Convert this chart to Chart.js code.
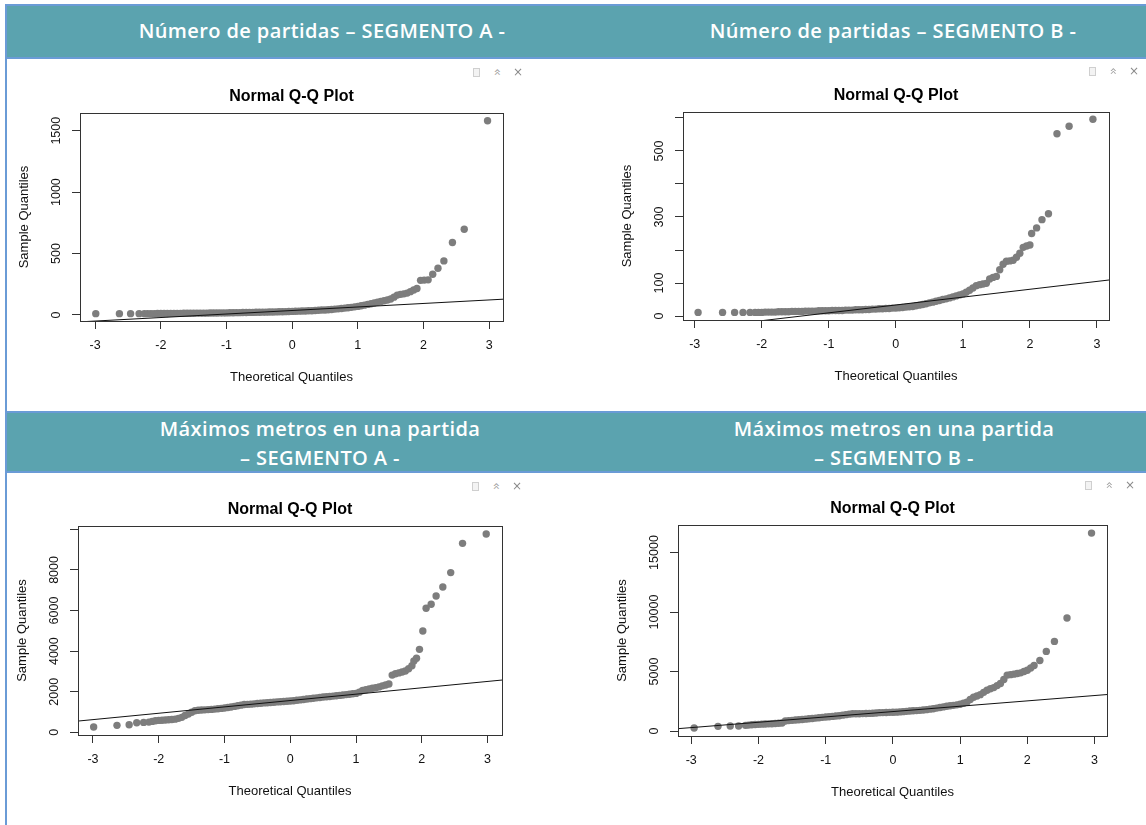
<!DOCTYPE html>
<html>
<head>
<meta charset="utf-8">
<script src="https://cdn.jsdelivr.net/npm/chart.js@4.4.1/dist/chart.umd.min.js"></script>
<style>
  body { margin: 0; background: #fff; width: 1146px; height: 825px; overflow: hidden; position: relative; }
  .band { position: absolute; left: 6px; right: 0; background: #5ba3af; border-top: 2px solid #6a9bd6; border-bottom: 2px solid #6a9bd6; }
  .vline { position: absolute; left: 5px; top: 4px; width: 2px; height: 821px; background: #6a9bd6; z-index: 2; }
  .head { position: absolute; width: 560px; text-align: center; color: #fff; font-family: "Open Sans", sans-serif; font-weight: 600; font-size: 20px; letter-spacing: 0.4px; line-height: 29px; white-space: nowrap; }
  canvas { position: absolute; }
  .ic { position: absolute; color: #a0a0a0; font-family: "DejaVu Sans", sans-serif; font-size: 12px; line-height: 12px; }
  .doc { position: absolute; width: 5px; height: 7px; border: 1px solid #cfcfcf; background: #f3f3f3; }
</style>
</head>
<body>
<div class="band" style="top:4px;height:51px"></div>
<div class="band" style="top:411px;height:58px"></div>
<div class="vline"></div>
<div class="head" style="left:42px;top:16px">Número de partidas – SEGMENTO A -</div>
<div class="head" style="left:613px;top:16px">Número de partidas – SEGMENTO B -</div>
<div class="head" style="left:40px;top:414px">Máximos metros en una partida<br>– SEGMENTO A -</div>
<div class="head" style="left:614px;top:414px">Máximos metros en una partida<br>– SEGMENTO B -</div>

<script>
// ---- data (theoretical quantile, sample quantile) ----
const xTicks = [-3, -2, -1, 0, 1, 2, 3];

// Número de partidas - segmento A
const partidasA_x = [-2.99,-2.63,-2.46,-2.33,-2.25,
  -2.2,-2.15,-2.1,-2.05,-2.0,-1.95,-1.9,-1.85,-1.8,-1.75,-1.7,-1.65,-1.6,-1.55,-1.5,-1.45,-1.4,-1.35,-1.3,-1.25,-1.2,-1.15,-1.1,-1.05,-1.0,-0.95,-0.9,-0.85,-0.8,-0.75,-0.7,-0.65,-0.6,-0.55,-0.5,-0.45,-0.4,-0.35,-0.3,-0.25,-0.2,-0.15,-0.1,-0.05,0,0.05,0.1,0.15,0.2,0.25,0.3,0.35,0.4,0.45,0.5,0.55,0.6,0.65,0.7,0.75,0.8,0.85,0.9,0.95,1.0,
  1.05,1.1,1.15,1.2,1.25,1.3,1.35,1.4,1.45,1.5,1.55,1.6,1.65,1.7,1.75,1.8,1.85,1.9,
  1.955,2.01,2.07,2.14,2.22,2.31,2.44,2.62,2.975];
const partidasA_y = [11,11,11,11,11,
  11,11,11,12,12,12,12,13,13,13,13,14,14,14,14,15,15,15,15,16,16,16,17,17,17,18,18,19,19,20,20,21,21,22,22,23,23,24,24,25,26,26,27,28,29,30,31,32,33,34,35,37,38,40,41,43,45,48,50,53,56,59,62,66,70,
  75,80,86,92,98,104,110,116,122,130,145,162,168,172,178,190,203,215,
  282,284,286,331,380,440,590,698,1581];
const partidasA_line = [[-3.3, -58], [3.3, 131]];
const partidasA_yTicks = [0, 500, 1000, 1500];
const partidasA_yLabels = ['0', '500', '1000', '1500'];

// Número de partidas - segmento B
const partidasB_x = [-2.95,-2.585,-2.405,-2.28,-2.175,
  -2.1,-2.05,-2.0,-1.95,-1.9,-1.85,-1.8,-1.75,-1.7,-1.65,-1.6,-1.55,-1.5,-1.45,-1.4,-1.35,-1.3,-1.25,-1.2,-1.15,-1.1,-1.05,-1.0,-0.95,-0.9,-0.85,-0.8,-0.75,-0.7,-0.65,-0.6,-0.55,-0.5,-0.45,-0.4,-0.35,-0.3,-0.25,-0.2,-0.15,-0.1,-0.05,0,0.05,0.1,0.15,0.2,0.25,0.3,0.35,0.4,0.45,0.5,0.55,0.6,0.65,0.7,0.75,0.8,0.85,0.9,0.95,1.0,
  1.05,1.1,1.15,1.2,1.25,1.3,1.35,1.4,1.45,1.5,1.55,1.6,1.65,1.7,1.75,1.8,1.85,1.9,1.95,2.0,
  2.026,2.10,2.18,2.277,2.404,2.585,2.94];
const partidasB_y = [11,11,11,11,11,
  11,11,11,12,12,12,12,13,13,13,13,14,14,14,14,15,15,15,15,16,16,16,16,17,17,17,17,18,18,18,19,19,19,20,20,21,21,22,22,23,23,24,24,25,26,27,28,29,31,33,35,37,40,42,45,47,50,52,55,58,61,64,67,
  72,78,85,92,95,97,99,112,117,120,140,157,166,167,169,178,190,208,212,215,
  250,267,292,310,552,575,596];
const partidasB_line = [[-3.3, -45], [3.3, 112]];
const partidasB_yTicks = [0, 100, 200, 300, 400, 500, 600];
const partidasB_yLabels = ['0', '100', '', '300', '', '500', ''];

// Máximos metros - segmento A
const metrosA_x = [-2.99,-2.635,-2.45,-2.335,-2.23,-2.15,
  -2.1,-2.05,-2.0,-1.95,-1.9,-1.85,-1.8,-1.75,-1.7,-1.65,-1.6,-1.55,-1.5,-1.45,-1.4,
  -1.35,-1.3,-1.25,-1.2,-1.15,-1.1,-1.05,-1.0,-0.95,-0.9,-0.85,-0.8,-0.75,-0.7,-0.65,-0.6,-0.55,-0.5,-0.45,-0.4,-0.35,-0.3,-0.25,-0.2,-0.15,-0.1,-0.05,0,0.05,0.1,0.15,0.2,0.25,0.3,0.35,0.4,0.45,0.5,0.55,0.6,0.65,0.7,0.75,0.8,0.85,0.9,0.95,1.0,
  1.05,1.1,1.15,1.2,1.25,1.3,1.35,1.4,1.45,1.5,1.55,1.6,1.65,1.7,1.75,1.8,1.85,1.88,1.92,
  1.965,2.016,2.066,2.143,2.218,2.32,2.44,2.62,2.98];
const metrosA_y = [261,345,375,475,490,505,
  540,570,590,600,610,620,635,650,690,740,830,900,990,1065,1090,
  1100,1110,1120,1130,1145,1160,1180,1200,1225,1250,1280,1310,1340,1370,1380,1390,1405,1420,1435,1450,1460,1470,1485,1500,1510,1520,1530,1545,1560,1580,1600,1620,1640,1660,1680,1700,1720,1740,1755,1770,1785,1800,1820,1840,1860,1880,1900,1920,
  1980,2060,2100,2140,2170,2200,2240,2290,2330,2380,2820,2890,2930,2970,3020,3130,3280,3520,3650,
  4090,4990,6110,6310,6720,7160,7870,9310,9770];
const metrosA_line = [[-3.3, 534], [3.3, 2602]];
const metrosA_yTicks = [0, 2000, 4000, 6000, 8000, 10000];
const metrosA_yLabels = ['0', '2000', '4000', '6000', '8000', ''];

// Máximos metros - segmento B
const metrosB_x = [-2.957,-2.602,-2.42,-2.295,-2.193,
  -2.15,-2.1,-2.05,-2.0,-1.95,-1.9,-1.85,-1.8,-1.75,-1.7,-1.65,-1.6,-1.55,-1.5,
  -1.45,-1.4,-1.35,-1.3,-1.25,-1.2,-1.15,-1.1,-1.05,-1.0,-0.95,-0.9,-0.85,-0.8,-0.75,-0.7,-0.65,-0.6,-0.55,-0.5,-0.45,-0.4,-0.35,-0.3,-0.25,-0.2,-0.15,-0.1,-0.05,0,0.05,0.1,0.15,0.2,0.25,0.3,0.35,0.4,0.45,0.5,0.55,0.6,0.65,0.7,0.75,0.8,0.85,0.9,0.95,1.0,
  1.05,1.1,1.15,1.2,1.25,1.3,1.35,1.4,1.45,1.5,1.55,1.6,1.65,1.7,1.75,1.8,1.85,1.9,1.95,2.0,2.05,
  2.10,2.186,2.282,2.403,2.59,2.955];
const metrosB_y = [253,396,421,421,480,
  500,530,550,565,580,595,605,620,640,655,675,840,880,900,
  930,955,975,1000,1030,1060,1090,1120,1150,1180,1205,1230,1260,1290,1335,1380,1420,1460,1460,1460,1465,1470,1485,1500,1520,1545,1550,1560,1570,1575,1590,1610,1630,1655,1680,1700,1720,1740,1770,1800,1840,1880,1930,1980,2030,2080,2120,2160,2200,2250,
  2330,2420,2650,2840,2950,3060,3250,3430,3550,3650,3820,4000,4330,4700,4740,4780,4830,4890,5000,5110,5300,
  5510,5930,6690,7530,9500,16630];
const metrosB_line = [[-3.3, 155], [3.3, 3119]];
const metrosB_yTicks = [0, 5000, 10000, 15000];
const metrosB_yLabels = ['0', '5000', '10000', '15000'];

// ---- layout ----
const FONT = '"Liberation Sans", Arial, sans-serif';
const TICK_SIZE = 12.5;
const GAP = { title: 16, xLab: 25, xTitle: 56.7, yLab: 23.5, yTitle: 55.5 };

const panels = [
  { x: partidasA_x, y: partidasA_y, line: partidasA_line, yTicks: partidasA_yTicks, yLabels: partidasA_yLabels,
    xRange: [-3.23, 3.21], yRange: [-49, 1644], box: [80, 113, 503, 321], icons: [477, 72] },
  { x: partidasB_x, y: partidasB_y, line: partidasB_line, yTicks: partidasB_yTicks, yLabels: partidasB_yLabels,
    xRange: [-3.175, 3.18], yRange: [-12, 618], box: [683, 112, 1109, 320], icons: [1093, 71] },
  { x: metrosA_x, y: metrosA_y, line: metrosA_line, yTicks: metrosA_yTicks, yLabels: metrosA_yLabels,
    xRange: [-3.228, 3.22], yRange: [-130, 10165], box: [78, 526, 502, 735], icons: [476, 486] },
  { x: metrosB_x, y: metrosB_y, line: metrosB_line, yTicks: metrosB_yTicks, yLabels: metrosB_yLabels,
    xRange: [-3.197, 3.185], yRange: [-415, 17310], box: [678, 525, 1107, 736], icons: [1089, 485] }
];

// frame around the plot region
const boxPlugin = {
  id: 'box',
  afterDatasetsDraw(chart) {
    const { ctx, chartArea: a } = chart;
    ctx.save();
    ctx.strokeStyle = '#333';
    ctx.lineWidth = 1;
    ctx.strokeRect(Math.round(a.left) + 0.5, Math.round(a.top) + 0.5,
      Math.round(a.right - a.left), Math.round(a.bottom - a.top));
    ctx.restore();
  }
};

// "Normal Q-Q Plot" centred over the plot region
const qqTitle = {
  id: 'qqTitle',
  afterDraw(chart, args, opts) {
    const { ctx, chartArea: a } = chart;
    ctx.save();
    ctx.font = 'bold 16px ' + FONT;
    ctx.fillStyle = '#000';
    ctx.textAlign = 'center';
    ctx.textBaseline = 'middle';
    ctx.fillText(opts.text, (a.left + a.right) / 2, a.top - opts.gap);
    ctx.restore();
  }
};

const meas = document.createElement('canvas').getContext('2d');
meas.font = TICK_SIZE + 'px ' + FONT;

function addIcons(x, y) {
  const doc = document.createElement('div');
  doc.className = 'doc';
  doc.style.left = (x - 4) + 'px'; doc.style.top = (y - 4) + 'px';
  document.body.appendChild(doc);
  const up = document.createElement('div');
  up.className = 'ic';
  up.textContent = '»';
  up.style.left = (x + 16) + 'px'; up.style.top = (y - 6) + 'px';
  up.style.transform = 'rotate(-90deg)';
  document.body.appendChild(up);
  const close = document.createElement('div');
  close.className = 'ic';
  close.textContent = '×';
  close.style.color = '#8a8a8a';
  close.style.left = (x + 36) + 'px'; close.style.top = (y - 6) + 'px';
  document.body.appendChild(close);
}

function drawPanel(p) {
  const [bl, bt, br, bb] = p.box;
  const cl = bl - 75, ct = bt - 35, cr = br + 30, cb = bb + 80;
  const cv = document.createElement('canvas');
  cv.width = cr - cl; cv.height = cb - ct;
  cv.style.left = cl + 'px'; cv.style.top = ct + 'px';
  cv.style.width = (cr - cl) + 'px'; cv.style.height = (cb - ct) + 'px';
  document.body.appendChild(cv);

  const widest = Math.max(...p.yLabels.map(s => meas.measureText(s).width));
  const pts = p.x.map((v, i) => ({ x: v, y: p.y[i] }));
  const ref = p.line.map(([x, y]) => ({ x, y }));

  new Chart(cv, {
    type: 'scatter',
    data: {
      datasets: [
        { data: pts, pointRadius: 3.7, pointHoverRadius: 3.7, pointBackgroundColor: '#7d7d7d',
          pointBorderWidth: 0, order: 2 },
        { data: ref, showLine: true, pointRadius: 0, borderColor: '#111', borderWidth: 1, order: 1, clip: 0 }
      ]
    },
    options: {
      responsive: false, animation: false, events: [],
      layout: { padding: { left: 0, top: bt - ct, right: cr - br, bottom: 0 } },
      plugins: {
        legend: { display: false }, tooltip: { enabled: false },
        qqTitle: { text: 'Normal Q-Q Plot', gap: GAP.title }
      },
      scales: {
        x: {
          type: 'linear', position: 'bottom', bounds: 'data', min: p.xRange[0], max: p.xRange[1],
          afterBuildTicks: s => { s.ticks = xTicks.map(v => ({ value: v })); },
          afterFit: s => { s.height = cb - bb; },
          grid: { drawOnChartArea: false, tickLength: 8, color: '#333' },
          border: { display: false },
          ticks: { color: '#111', font: { family: FONT, size: TICK_SIZE }, padding: GAP.xLab - 8 - 7.5,
            maxRotation: 0, autoSkip: false, callback: v => String(v) },
          title: { display: true, text: 'Theoretical Quantiles', color: '#111', font: { family: FONT, size: 13 },
            padding: { top: 0, bottom: (cb - bb) - GAP.xTitle - 7.8 } }
        },
        y: {
          type: 'linear', position: 'left', bounds: 'data', min: p.yRange[0], max: p.yRange[1],
          afterBuildTicks: s => { s.ticks = p.yTicks.map(v => ({ value: v })); },
          afterFit: s => { s.width = bl - cl; },
          grid: { drawOnChartArea: false, tickLength: 8, color: '#333' },
          border: { display: false },
          ticks: { color: '#111', font: { family: FONT, size: TICK_SIZE }, minRotation: 90, maxRotation: 90,
            crossAlign: 'center', padding: GAP.yLab - 8 - widest / 2, autoSkip: false,
            callback: (v, i) => p.yLabels[i] },
          title: { display: true, text: 'Sample Quantiles', color: '#111', font: { family: FONT, size: 13 },
            padding: { top: (bl - cl) - GAP.yTitle - 7.8, bottom: 0 } }
        }
      }
    },
    plugins: [boxPlugin, qqTitle]
  });
  addIcons(p.icons[0], p.icons[1]);
}

panels.forEach(drawPanel);
</script>
</body>
</html>
